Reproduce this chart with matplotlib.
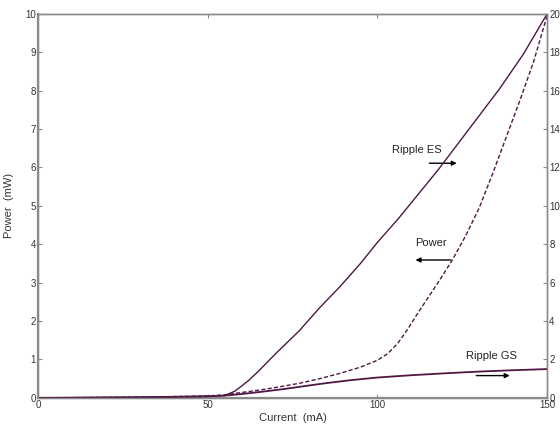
import matplotlib
matplotlib.use("Agg")
import matplotlib.pyplot as plt

# Current (mA) and curves
es_current = [0, 20, 40, 50, 55, 58, 62, 65, 70, 77, 83, 89, 95, 100, 106, 112, 118,
              124, 130, 136, 143, 150]
ripple_es = [0, 0.02, 0.05, 0.08, 0.12, 0.35, 0.9, 1.4, 2.3, 3.5, 4.7, 5.8, 7.0, 8.1,
             9.3, 10.6, 11.9, 13.3, 14.7, 16.1, 17.9, 20.0]

power_current = [0, 30, 50, 55, 60, 65, 70, 77, 83, 89, 95, 100, 103, 106, 109, 112,
                 115, 118, 122, 126, 130, 134, 138, 142, 146, 150]
power_mw = [0, 0.02, 0.05, 0.08, 0.14, 0.2, 0.27, 0.38, 0.5, 0.64, 0.8, 0.98, 1.15,
            1.42, 1.8, 2.22, 2.62, 3.02, 3.58, 4.22, 4.95, 5.85, 6.8, 7.75, 8.75, 9.95]

gs_current = [0, 30, 50, 55, 60, 66, 72, 78, 85, 92, 100, 110, 120, 130, 140, 150]
ripple_gs = [0, 0.03, 0.08, 0.12, 0.2, 0.32, 0.45, 0.6, 0.77, 0.92, 1.06, 1.18, 1.28,
             1.37, 1.44, 1.5]

x_ticks = [0, 50, 100, 150]
left_ticks = list(range(0, 11))
right_ticks = list(range(0, 21, 2))

LINE = "#4e1744"
GREY = "#8a8a8a"
TXT = "#333333"

plt.rcParams["font.family"] = ["Liberation Sans", "DejaVu Sans"]

fig = plt.figure(figsize=(5.6, 4.32), dpi=100)
ax = fig.add_axes([0.068, 0.079, 0.909, 0.889])
ax2 = ax.twinx()

ax.plot(power_current, power_mw, color=LINE, lw=1.0, linestyle=(0, (3, 1.6)))
ax2.plot(es_current, ripple_es, color=LINE, lw=1.0)
ax2.plot(gs_current, ripple_gs, color=LINE, lw=1.3)

ax.set_xlim(0, 150)
ax.set_ylim(0, 10)
ax2.set_ylim(0, 20)
ax.set_xticks(x_ticks)
ax.set_yticks(left_ticks)
ax2.set_yticks(right_ticks)

for a in (ax, ax2):
    for s in a.spines.values():
        s.set_color(GREY)
        s.set_linewidth(1.0)
    a.tick_params(direction="in", length=3, width=0.8, color=GREY,
                  labelsize=7, labelcolor=TXT, pad=1.5)
ax.tick_params(axis="x", top=True)
ax.spines["left"].set_linewidth(1.6)
ax.spines["bottom"].set_linewidth(1.6)

ax.set_xlabel("Current  (mA)", fontsize=8, color=TXT, labelpad=2)
ax.set_ylabel("Power  (mW)", fontsize=8, color=TXT, labelpad=8)

# annotations (left-axis coordinates)
ax.text(111.7, 6.46, "Ripple ES", fontsize=8, ha="center", va="center", color="#222222")
ax.annotate("", xy=(124.2, 6.11), xytext=(114.5, 6.11),
            arrowprops=dict(arrowstyle="-|>", color="black", lw=1.0, mutation_scale=7))
ax.text(115.8, 4.03, "Power", fontsize=8, ha="center", va="center", color="#222222")
ax.annotate("", xy=(110.4, 3.59), xytext=(122.4, 3.59),
            arrowprops=dict(arrowstyle="-|>", color="black", lw=1.0, mutation_scale=7))
ax.text(133.6, 1.09, "Ripple GS", fontsize=8, ha="center", va="center", color="#222222")
ax.annotate("", xy=(139.8, 0.58), xytext=(128.3, 0.58),
            arrowprops=dict(arrowstyle="-|>", color="black", lw=1.0, mutation_scale=7))

fig.savefig("out.png", dpi=100)
